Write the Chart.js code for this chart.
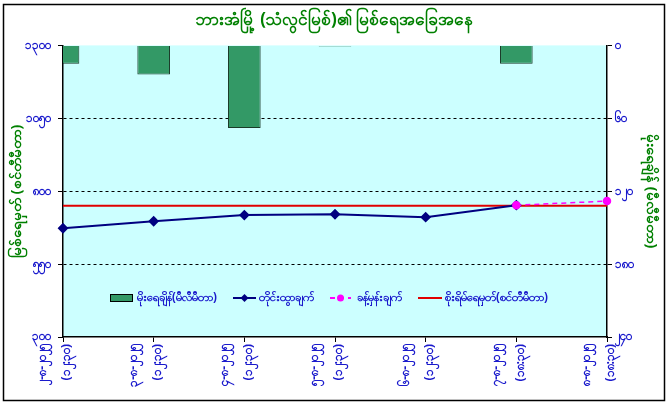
<!DOCTYPE html>
<html>
<head>
<meta charset="utf-8">
<script src="https://cdn.jsdelivr.net/npm/chart.js@4.4.1/dist/chart.umd.min.js"></script>
<style>
    html, body { margin: 0; padding: 0; background: #fff; }
    #wrap { width: 669px; height: 405px; position: relative; }
</style>
</head>
<body>
<div id="wrap"><canvas id="grafico-rio"></canvas></div>
<script>
// Data
const categories = [
    ['၂-၈-၂၀၂၅', '(၁၂:၃၀)'],
    ['၃-၈-၂၀၂၅', '(၁၂:၃၀)'],
    ['၄-၈-၂၀၂၅', '(၁၂:၃၀)'],
    ['၅-၈-၂၀၂၅', '(၁၂:၃၀)'],
    ['၆-၈-၂၀၂၅', '(၁၂:၃၀)'],
    ['၇-၈-၂၀၂၅', '(၁၈:၃၀)'],
    ['၈-၈-၂၀၂၅', '(၁၈:၃၀)']
];
const rainfallMm    = [15, 24, 68, 1, 0, 15, 0];
const observedLevel = [673, 697, 718, 721, 711, 752, null];
const forecastLevel = [null, null, null, null, null, 752, 766];
const dangerLevel   = [750, 750, 750, 750, 750, 750, 750];
const levelTicks    = { min: 300, max: 1300, step: 250 };
const rainTicks     = { min: 0, max: 240, step: 60 };

const seriesNames = ['မိုးရေချိန်(မီလီမီတာ)', 'တိုင်းထွာချက်', 'ခန့်မှန်းချက်', 'စိုးရိမ်ရေမှတ်(စင်တီမီတာ)'];

const FONT   = '"Noto Sans", "DejaVu Sans", sans-serif';
const BLUE   = '#1a1acc';
const GREEN  = '#008000';

// Western digits -> Myanmar digits
function mm(n) {
    return String(n).replace(/[0-9]/g, d => '၀၁၂၃၄၅၆၇၈၉'[d]);
}

// White page, black frame and the cyan plot area
const fundoPlugin = {
    id: 'fundo',
    beforeDraw(chart) {
        const { ctx, chartArea: a } = chart;
        ctx.save();
        ctx.fillStyle = '#fff';
        ctx.fillRect(0, 0, chart.width, chart.height);
        ctx.fillStyle = '#ccffff';
        ctx.fillRect(a.left, a.top, a.right - a.left, a.bottom - a.top);
        ctx.strokeStyle = '#000';
        ctx.lineWidth = 1.5;
        ctx.strokeRect(3.5, 4.5, 661, 396);
        ctx.restore();
    }
};

// Legend drawn inside the plot, like the spreadsheet one
const legendaPlugin = {
    id: 'legendaInterna',
    afterDatasetsDraw(chart) {
        const ctx = chart.ctx;
        const y   = 298;
        const ds  = chart.data.datasets;
        const xs  = [110, 233, 330, 418];
        ctx.save();
        ctx.font = `bold 11.5px ${FONT}`;
        ctx.textBaseline = 'middle';

        // bars
        ctx.fillStyle = ds[0].backgroundColor;
        ctx.fillRect(xs[0], y - 4, 23, 7);
        ctx.strokeStyle = '#000';
        ctx.lineWidth = 1;
        ctx.strokeRect(xs[0] + 0.5, y - 3.5, 22, 7);

        // observed
        ctx.strokeStyle = ds[1].borderColor;
        ctx.lineWidth = 2;
        ctx.beginPath(); ctx.moveTo(xs[1], y); ctx.lineTo(xs[1] + 23, y); ctx.stroke();
        ctx.fillStyle = ds[1].borderColor;
        ctx.beginPath();
        ctx.moveTo(xs[1] + 11.5, y - 4); ctx.lineTo(xs[1] + 15.5, y);
        ctx.lineTo(xs[1] + 11.5, y + 4); ctx.lineTo(xs[1] + 7.5, y);
        ctx.closePath(); ctx.fill();

        // forecast
        ctx.strokeStyle = ds[2].borderColor;
        ctx.setLineDash([5, 4]);
        ctx.beginPath(); ctx.moveTo(xs[2], y); ctx.lineTo(xs[2] + 21, y); ctx.stroke();
        ctx.setLineDash([]);
        ctx.fillStyle = ds[2].borderColor;
        ctx.beginPath(); ctx.arc(xs[2] + 10.5, y, 3.5, 0, Math.PI * 2); ctx.fill();

        // danger level
        ctx.strokeStyle = ds[3].borderColor;
        ctx.beginPath(); ctx.moveTo(xs[3], y); ctx.lineTo(xs[3] + 24, y); ctx.stroke();

        ctx.fillStyle = BLUE;
        const textX = [137, 259, 357, 445];
        textX.forEach((x, i) => ctx.fillText(seriesNames[i], x, y));
        ctx.restore();
    }
};

const grafico = new Chart(document.getElementById('grafico-rio'), {
    type: 'bar',
    data: {
        labels: categories,
        datasets: [
            {
                type: 'bar',
                label: seriesNames[0],
                data: rainfallMm,
                yAxisID: 'y1',
                backgroundColor: '#339966',
                borderColor: '#1a3a28',
                borderWidth: 1,
                categoryPercentage: 0.8,
                barPercentage: 0.45,
                order: 4
            },
            {
                type: 'line',
                label: seriesNames[1],
                data: observedLevel,
                yAxisID: 'y',
                borderColor: '#000080',
                backgroundColor: '#000080',
                borderWidth: 2,
                pointStyle: 'rectRot',
                pointRadius: 4,
                tension: 0,
                order: 2
            },
            {
                type: 'line',
                label: seriesNames[2],
                data: forecastLevel,
                yAxisID: 'y',
                borderColor: '#ff00ff',
                backgroundColor: '#ff00ff',
                borderWidth: 1.5,
                borderDash: [5, 4],
                pointRadius: 3.5,
                tension: 0,
                order: 1
            },
            {
                type: 'line',
                label: seriesNames[3],
                data: dangerLevel,
                yAxisID: 'y',
                borderColor: '#e00000',
                borderWidth: 2,
                pointRadius: 0,
                tension: 0,
                order: 3
            }
        ]
    },
    options: {
        responsive: true,
        maintainAspectRatio: false,
        animation: false,
        layout: { padding: 0 },
        plugins: {
            legend: { display: false },
            tooltip: { enabled: false },
            title: {
                display: true,
                text: 'ဘားအံမြို့ (သံလွင်မြစ်)၏ မြစ်ရေအခြေအနေ',
                color: GREEN,
                font: { family: FONT, size: 17, weight: 'bold', lineHeight: 1.2 },
                padding: { top: 10, bottom: 15 }
            }
        },
        scales: {
            x: {
                offset: false,
                grid: { offset: false, drawOnChartArea: false, color: '#000', tickColor: '#000', tickLength: 5 },
                border: { color: '#000', width: 1.5 },
                ticks: {
                    color: BLUE,
                    font: { family: FONT, size: 12, weight: 'bold', lineHeight: 2 },
                    minRotation: 90,
                    maxRotation: 90,
                    autoSkip: false,
                    labelOffset: -20,
                    padding: 2
                },
                afterFit: s => { s.height = 68; }
            },
            y: {
                position: 'left',
                min: levelTicks.min,
                max: levelTicks.max,
                ticks: {
                    stepSize: levelTicks.step,
                    color: BLUE,
                    font: { family: FONT, size: 12, weight: 'bold' },
                    padding: 7,
                    callback: v => mm(v)
                },
                grid: {
                    color: c => (c.tick && (c.tick.value === levelTicks.min || c.tick.value === levelTicks.max)) ? 'rgba(0,0,0,0)' : '#000',
                    tickColor: '#000',
                    tickLength: 5,
                    tickBorderDash: [],
                    lineWidth: 1
                },
                border: { color: '#000', width: 1.5, dash: [3, 3] },
                title: {
                    display: true,
                    text: 'မြစ်ရေမှတ် (စင်တီမီတာ)',
                    color: GREEN,
                    font: { family: FONT, size: 14, weight: 'bold', lineHeight: 1.2 },
                    padding: { top: 9, bottom: 0 }
                },
                afterFit: s => { s.width = 63; }
            },
            y1: {
                position: 'right',
                reverse: true,
                min: rainTicks.min,
                max: rainTicks.max,
                ticks: {
                    stepSize: rainTicks.step,
                    color: BLUE,
                    font: { family: FONT, size: 12, weight: 'bold' },
                    padding: 3,
                    callback: v => mm(v)
                },
                grid: { drawOnChartArea: false, color: '#000', tickColor: '#000', tickLength: 5 },
                border: { color: '#000', width: 1.5 },
                title: {
                    display: true,
                    text: 'မိုးရေချိန် (မီလီမီတာ)',
                    color: GREEN,
                    font: { family: FONT, size: 14, weight: 'bold', lineHeight: 1.2 },
                    padding: { top: 10, bottom: 0 }
                },
                afterFit: s => { s.width = 62; }
            }
        }
    },
    plugins: [fundoPlugin, legendaPlugin]
});
</script>
</body>
</html>
